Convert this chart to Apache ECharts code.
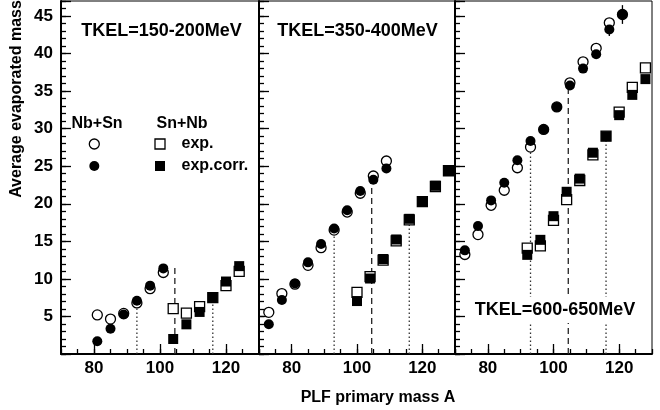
<!DOCTYPE html>
<html><head><meta charset="utf-8">
<script src="https://cdn.jsdelivr.net/npm/echarts@6/dist/echarts.min.js"></script>
<style>html,body{margin:0;padding:0;background:#fff}#c{width:660px;height:410px}</style>
</head><body><div id="c"></div>
<script>
const FONT = '"Liberation Sans", Arial, Helvetica, sans-serif';
const panelTitles = ['TKEL=150-200MeV', 'TKEL=350-400MeV', 'TKEL=600-650MeV'];
const xTickLabels = [80, 100, 120];
const xTitle = 'PLF primary mass A';
const yTitle = 'Average evaporated mass';
const legendHeaders = ['Nb+Sn', 'Sn+Nb'];
const legendLabels = ['exp.', 'exp.corr.'];

// Panel 1 (TKEL=150-200MeV)
const p1CircX = [81, 85, 89, 93, 97, 101];
const p1OpenCirc = [5.2, 4.65, 5.4, 6.8, 8.7, 10.85];
const p1FillCirc = [1.7, 3.35, 5.25, 7.1, 9.1, 11.4];
const p1SqX = [104, 108, 112, 116, 120, 124];
const p1OpenSq = [6.05, 5.45, 6.3, 7.5, 9.1, 11.0];
const p1FillSq = [2.0, 3.95, 5.6, 7.5, 9.65, 11.7];

// Panel 2 (TKEL=350-400MeV)
const p2CircX = [73, 77, 81, 85, 89, 93, 97, 101, 105, 109];
const p2OpenCirc = [5.55, 8.05, 9.3, 11.8, 14.15, 16.5, 18.9, 21.4, 23.7, 25.7];
const p2FillCirc = [3.95, 7.2, 9.4, 12.2, 14.65, 16.7, 19.15, 21.7, 23.2, 24.7];
const p2SqX = [100, 104, 108, 112, 116, 120, 124, 128];
const p2OpenSq = [8.2, 10.3, 12.5, 15.05, 17.85, 20.3, 22.3, 24.4];
const p2FillSq = [7.05, 10.05, 12.65, 15.25, 18.0, 20.35, 22.4, 24.5];

// Panel 3 (TKEL=600-650MeV)
const p3CircX = [73, 77, 81, 85, 89, 93, 97, 101, 105, 109, 113, 117, 121];
const p3OpenCirc = [13.25, 15.9, 19.8, 21.8, 24.8, 27.55, 29.9, 32.9, 36.1, 38.9, 40.7, 44.1, 45.2];
const p3FillCirc = [13.8, 17.05, 20.45, 22.8, 25.8, 28.35, 29.9, 32.9, 35.75, 38.0, 39.9, 43.2, 45.2];
const p3SqX = [92, 96, 100, 104, 108, 112, 116, 120, 124, 128];
const p3OpenSq = [14.1, 14.4, 17.8, 20.55, 23.1, 26.5, 29.0, 32.2, 35.5, 38.1];
const p3FillSq = [13.2, 15.2, 18.35, 21.6, 23.35, 26.8, 29.0, 31.8, 34.5, 36.6];
const p3ErrX = [117, 121];
const p3ErrY = [43.2, 45.2];
const p3ErrSize = [0.85, 1.25];

// vertical guide lines (dotted, dashed, dotted) and their top values per panel
const guideX = [93, 104.5, 116];
const p1GuideTop = [6.3, 11.7, 7.6];
const p2GuideTop = [16.7, 23.5, 18.0];
const p3GuideTop = [27.7, 35.8, 28.9];

const panels = [
  {cx: p1CircX, oc: p1OpenCirc, fc: p1FillCirc, sx: p1SqX, os: p1OpenSq, fs: p1FillSq, gt: p1GuideTop, ex: [], ey: [], ee: []},
  {cx: p2CircX, oc: p2OpenCirc, fc: p2FillCirc, sx: p2SqX, os: p2OpenSq, fs: p2FillSq, gt: p2GuideTop, ex: [], ey: [], ee: []},
  {cx: p3CircX, oc: p3OpenCirc, fc: p3FillCirc, sx: p3SqX, os: p3OpenSq, fs: p3FillSq, gt: p3GuideTop, ex: p3ErrX, ey: p3ErrY, ee: p3ErrSize}
];

const gridLefts = [61, 259, 455];
const gridWidths = [198, 196, 197];
const zip = (xs, ys) => xs.map((x, i) => [x, ys[i]]);

const grid = [], xAxis = [], yAxis = [], series = [];
panels.forEach((p, i) => {
  grid.push({left: gridLefts[i], top: 1, width: gridWidths[i], height: 353,
    show: true, borderColor: '#000', borderWidth: 1, backgroundColor: 'transparent'});
  // major x axis
  xAxis.push({type: 'value', gridIndex: i, position: 'bottom', min: 70, max: 130,
    axisLine: {show: true, onZero: false, lineStyle: {color: '#000', width: 2}},
    axisTick: {show: true, inside: true, length: 10, customValues: xTickLabels, lineStyle: {color: '#000', width: 1.3}},
    axisLabel: {show: true, customValues: xTickLabels, color: '#000', fontSize: 17, fontWeight: 'bold', fontFamily: FONT, margin: 6},
    splitLine: {show: false}});
  // minor x axis
  xAxis.push({type: 'value', gridIndex: i, position: 'bottom', min: 70, max: 130, interval: 5,
    axisLine: {show: false, onZero: false}, axisLabel: {show: false}, splitLine: {show: false},
    axisTick: {show: true, inside: true, length: 5, lineStyle: {color: '#000', width: 1.3}}});
  // major y axis
  yAxis.push({type: 'value', gridIndex: i, position: 'left', min: 0, max: 47, interval: 5,
    axisLine: {show: true, onZero: false, lineStyle: {color: '#000', width: 2}},
    axisTick: {show: true, inside: true, length: 10, lineStyle: {color: '#000', width: 1.3}},
    axisLabel: {show: i === 0, color: '#000', fontSize: 17, fontWeight: 'bold', fontFamily: FONT, margin: 8,
      formatter: v => (v > 0 && v % 5 === 0) ? String(v) : ''},
    splitLine: {show: false}});
  // minor y axis
  yAxis.push({type: 'value', gridIndex: i, position: 'left', min: 0, max: 47, interval: 1,
    axisLine: {show: false, onZero: false}, axisLabel: {show: false}, splitLine: {show: false},
    axisTick: {show: true, inside: true, length: 5, lineStyle: {color: '#000', width: 1.3}}});

  const xi = 2 * i, yi = 2 * i;
  guideX.forEach((gx, k) => {
    series.push({type: 'line', xAxisIndex: xi, yAxisIndex: yi, data: [[gx, 0], [gx, p.gt[k]]],
      symbol: 'none', silent: true, z: 1, animation: false,
      lineStyle: k === 1 ? {type: [6, 4], width: 1.3, color: '#222'} : {type: [1.5, 2.5], width: 1.3, color: '#333'}});
  });
  if (p.ex.length) {
    series.push({type: 'custom', xAxisIndex: xi, yAxisIndex: yi, z: 2, silent: true,
      data: p.ex.map((x, j) => [x, p.ey[j] - p.ee[j], p.ey[j] + p.ee[j]]),
      renderItem: (params, api) => {
        const lo = api.coord([api.value(0), api.value(1)]);
        const hi = api.coord([api.value(0), api.value(2)]);
        return {type: 'line', shape: {x1: lo[0], y1: lo[1], x2: hi[0], y2: hi[1]}, style: {stroke: '#000', lineWidth: 1.3}};
      }});
  }
  const open = {color: '#fff', borderColor: '#000', borderWidth: 1.3, opacity: 1};
  const fill = {color: '#000', borderColor: '#000', borderWidth: 0, opacity: 1};
  series.push({type: 'scatter', xAxisIndex: xi, yAxisIndex: yi, symbol: 'circle', symbolSize: 10, itemStyle: open, data: zip(p.cx, p.oc), z: 3});
  series.push({type: 'scatter', xAxisIndex: xi, yAxisIndex: yi, symbol: 'rect', symbolSize: 10, itemStyle: open, data: zip(p.sx, p.os), z: 3});
  series.push({type: 'scatter', xAxisIndex: xi, yAxisIndex: yi, symbol: 'circle', symbolSize: 10, itemStyle: fill, data: zip(p.cx, p.fc), z: 4});
  series.push({type: 'scatter', xAxisIndex: xi, yAxisIndex: yi, symbol: 'rect', symbolSize: 10, itemStyle: fill, data: zip(p.sx, p.fs), z: 4});
});

const txt = (text, x, y, size, align, extra) => Object.assign({type: 'text', x: x, y: y, z: 100,
  style: Object.assign({text: text, fill: '#000', font: 'bold ' + size + 'px ' + FONT, textAlign: align, textVerticalAlign: 'middle'}, extra || {})});

const graphic = [
  Object.assign(txt(yTitle, 17, 99, 16, 'center'), {rotation: Math.PI / 2}),
  txt(xTitle, 378, 398, 16, 'center'),
  txt(panelTitles[0], 161.5, 31.5, 18, 'center'),
  txt(panelTitles[1], 357.5, 31.5, 18, 'center'),
  txt(panelTitles[2], 555, 310, 18, 'center', {backgroundColor: '#fff', padding: [4, 3]}),
  txt(legendHeaders[0], 71.5, 123.5, 16, 'left'),
  txt(legendHeaders[1], 156.5, 123.5, 16, 'left'),
  txt(legendLabels[0], 181.5, 144, 16, 'left'),
  txt(legendLabels[1], 181.5, 166, 16, 'left'),
  {type: 'circle', z: 100, shape: {cx: 94.3, cy: 144, r: 5}, style: {fill: '#fff', stroke: '#000', lineWidth: 1.3}},
  {type: 'circle', z: 100, shape: {cx: 94.3, cy: 166, r: 5}, style: {fill: '#000'}},
  {type: 'rect', z: 100, shape: {x: 155, y: 139, width: 10, height: 10}, style: {fill: '#fff', stroke: '#000', lineWidth: 1.3}},
  {type: 'rect', z: 100, shape: {x: 155, y: 161, width: 10, height: 10}, style: {fill: '#000'}}
];

const chart = echarts.init(document.getElementById('c'), null, {renderer: 'canvas'});
chart.setOption({animation: false, backgroundColor: '#fff', grid, xAxis, yAxis, series, graphic});
</script></body></html>
